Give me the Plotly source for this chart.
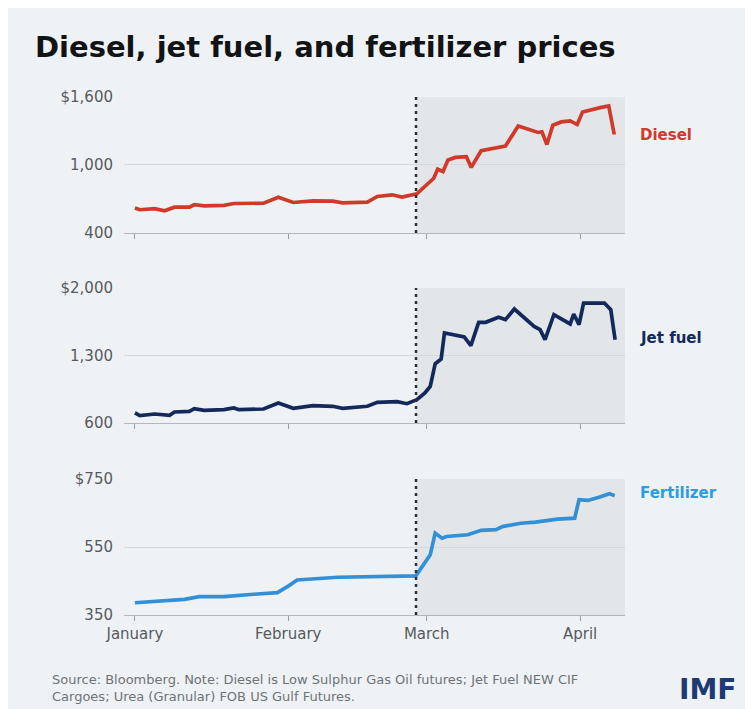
import plotly.graph_objects as go

# ---------------- data ----------------
diesel_dates = ["2026-01-01", "2026-01-02", "2026-01-05", "2026-01-07", "2026-01-09", "2026-01-12",
                "2026-01-13", "2026-01-15", "2026-01-19", "2026-01-21", "2026-01-27", "2026-01-30",
                "2026-02-02", "2026-02-06", "2026-02-10", "2026-02-12", "2026-02-17", "2026-02-19",
                "2026-02-22", "2026-02-24", "2026-02-27", "2026-02-28 15:00", "2026-03-02 10:00",
                "2026-03-03 05:00", "2026-03-04 07:00", "2026-03-05 07:00", "2026-03-06 19:00",
                "2026-03-09", "2026-03-10", "2026-03-12", "2026-03-14 10:00", "2026-03-16 22:00",
                "2026-03-19 12:00", "2026-03-21 07:00", "2026-03-23 12:00", "2026-03-24 07:00",
                "2026-03-25 07:00", "2026-03-26 12:00", "2026-03-28 05:00", "2026-03-30",
                "2026-03-31 10:00", "2026-04-01 12:00", "2026-04-03 07:00", "2026-04-05 02:00",
                "2026-04-06 19:00", "2026-04-07 22:00"]
diesel_vals = [620, 605, 614, 596, 628, 628, 649, 640, 643, 660, 663, 716,
               669, 684, 681, 666, 672, 722, 737, 716, 745, 810, 883,
               962, 942, 1044, 1067, 1073, 979, 1126, 1146, 1167,
               1345, 1322, 1287, 1293, 1181, 1351, 1380, 1389,
               1357, 1468, 1483, 1506, 1521, 1269]

jet_dates = ["2026-01-01", "2026-01-02", "2026-01-05", "2026-01-08", "2026-01-09", "2026-01-12",
             "2026-01-13", "2026-01-15", "2026-01-19", "2026-01-21", "2026-01-22", "2026-01-27",
             "2026-01-30", "2026-02-02", "2026-02-06", "2026-02-10", "2026-02-12", "2026-02-17",
             "2026-02-19", "2026-02-23", "2026-02-25", "2026-02-27", "2026-02-28 15:00",
             "2026-03-01 17:00", "2026-03-02 17:00", "2026-03-03 22:00", "2026-03-04 14:00",
             "2026-03-08 14:00", "2026-03-09 22:00", "2026-03-11 12:00", "2026-03-12 22:00",
             "2026-03-15 12:00", "2026-03-16 22:00", "2026-03-18 17:00", "2026-03-22 17:00",
             "2026-03-23 22:00", "2026-03-24 22:00", "2026-03-26 17:00", "2026-03-30",
             "2026-03-30 17:00", "2026-03-31 19:00", "2026-04-01 17:00", "2026-04-05 22:00",
             "2026-04-07 05:00", "2026-04-08 02:00"]
jet_vals = [704, 676, 693, 679, 714, 721, 749, 731, 738, 756, 738, 745,
            807, 752, 780, 773, 752, 773, 814, 821, 800, 842, 911,
            980, 1215, 1264, 1533, 1492, 1402, 1644, 1644,
            1696, 1672, 1782, 1602, 1568, 1464, 1723, 1627,
            1730, 1620, 1844, 1844, 1775, 1464]

fert_dates = ["2026-01-01", "2026-01-06", "2026-01-11", "2026-01-14", "2026-01-19", "2026-01-25",
              "2026-01-29 19:00", "2026-02-01", "2026-02-02 19:00", "2026-02-11", "2026-02-24",
              "2026-02-26 19:00", "2026-03-01 17:00", "2026-03-02 17:00", "2026-03-04 02:00",
              "2026-03-05", "2026-03-09 07:00", "2026-03-12", "2026-03-15", "2026-03-16 07:00",
              "2026-03-20", "2026-03-23", "2026-03-27 10:00", "2026-03-30 22:00",
              "2026-03-31 19:00", "2026-04-02 14:00", "2026-04-05", "2026-04-06 22:00",
              "2026-04-08"]
fert_vals = [386, 392, 396, 404, 404, 411, 416, 435, 453, 461, 463, 465, 527, 591, 576,
             581, 586, 599, 601, 610, 620, 623, 632, 635, 689, 687, 697, 707, 701]

series_names = ["Diesel", "Jet fuel", "Fertilizer"]
month_ticks = ["2026-01-01", "2026-02-01", "2026-03-01", "2026-04-01"]
month_labels = ["January", "February", "March", "April"]
diesel_ticks = [400, 1000, 1600]
diesel_ticktext = ["400", "1,000", "$1,600"]
jet_ticks = [600, 1300, 2000]
jet_ticktext = ["600", "1,300", "$2,000"]
fert_ticks = [350, 550, 750]
fert_ticktext = ["350", "550", "$750"]
event_date = "2026-02-26 20:00"
x_range = ["2025-12-29 19:00", "2026-04-10 02:00"]

# ---------------- style ----------------
BG = "#eff2f5"
SHADE = "#e3e6e9"
GRID = "#d6d9dc"
AXIS = "#b4b7ba"
TICKFONT = dict(family="DejaVu Sans", size=15, color="#555a5f")
colors = ["#d03a2a", "#13295b", "#3190d8"]
label_colors = ["#d03a2a", "#13295b", "#2b9de0"]

fig = go.Figure()
series = [(diesel_dates, diesel_vals), (jet_dates, jet_vals), (fert_dates, fert_vals)]
for i, (d, v) in enumerate(series):
    sfx = "" if i == 0 else str(i + 1)
    fig.add_trace(go.Scatter(x=d, y=v, mode="lines", name=series_names[i],
                             line=dict(color=colors[i], width=3.7),
                             xaxis="x" + sfx, yaxis="y" + sfx, showlegend=False))

domains = [[0.7375, 1.0], [0.3707, 0.6313], [0.0, 0.2625]]
yt = [(diesel_ticks, diesel_ticktext), (jet_ticks, jet_ticktext), (fert_ticks, fert_ticktext)]

layout = dict(
    width=745, height=701,
    margin=dict(l=116, r=128, t=89, b=94),
    paper_bgcolor=BG,
    plot_bgcolor="rgba(0,0,0,0)",
    showlegend=False,
)
for i in range(3):
    sfx = "" if i == 0 else str(i + 1)
    layout["xaxis" + sfx] = dict(
        domain=[0, 1], anchor="y" + sfx, type="date", range=x_range,
        tickvals=month_ticks, ticktext=month_labels if i == 2 else ["", "", "", ""],
        ticks="outside", ticklen=5, tickcolor="#9a9da0", tickwidth=1,
        showline=True, linecolor=AXIS, linewidth=1.2, showgrid=False, zeroline=False,
        tickfont=TICKFONT, fixedrange=True,
        **({} if i == 0 else dict(matches="x")),
    )
    layout["yaxis" + sfx] = dict(
        domain=domains[i], anchor="x" + sfx, range=[yt[i][0][0], yt[i][0][-1]],
        tickvals=yt[i][0], ticktext=yt[i][1], ticks="",
        showgrid=True, gridcolor=GRID, gridwidth=1, zeroline=False, showline=False,
        tickfont=TICKFONT, ticklabelstandoff=10, fixedrange=True,
    )

shapes = []
for i in range(3):
    sfx = "" if i == 0 else str(i + 1)
    shapes.append(dict(type="rect", xref="x" + sfx, yref="y" + sfx + " domain",
                       x0=event_date, x1=x_range[1], y0=0, y1=1,
                       fillcolor=SHADE, line=dict(width=0), layer="below"))
for i in range(3):
    sfx = "" if i == 0 else str(i + 1)
    shapes.append(dict(type="line", xref="x" + sfx, yref="y" + sfx + " domain",
                       x0=event_date, x1=event_date, y0=0, y1=1,
                       line=dict(color="#2b2f36", width=2.5, dash="3px,4px"), layer="above"))
layout["shapes"] = shapes

label_y = [1265, 1478, 709]
annotations = []
for i in range(3):
    sfx = "" if i == 0 else str(i + 1)
    annotations.append(dict(text="<b>%s</b>" % series_names[i], xref="paper", yref="y" + sfx,
                            x=1.026, y=label_y[i], xanchor="left", yanchor="middle", showarrow=False,
                            font=dict(family="DejaVu Sans", size=15, color=label_colors[i])))
annotations.append(dict(text="<b>Diesel, jet fuel, and fertilizer prices</b>", xref="paper", yref="paper",
                        x=-0.1816, y=1.0965, xanchor="left", yanchor="middle", showarrow=False,
                        font=dict(family="DejaVu Sans", size=29, color="#111315")))
annotations.append(dict(text="Source: Bloomberg. Note: Diesel is Low Sulphur Gas Oil futures; Jet Fuel NEW CIF<br>"
                             "Cargoes; Urea (Granular) FOB US Gulf Futures.",
                        xref="paper", yref="paper", x=-0.1477, y=-0.1409, xanchor="left", yanchor="middle",
                        align="left", showarrow=False,
                        font=dict(family="DejaVu Sans", size=13, color="#6e7276")))
annotations.append(dict(text="<b>IMF</b>", xref="paper", yref="paper", x=1.1038, y=-0.1429,
                        xanchor="left", yanchor="middle", showarrow=False,
                        font=dict(family="DejaVu Sans", size=28, color="#1d3a72")))
layout["annotations"] = annotations

fig.update_layout(**layout)
fig.write_html("out.html")
